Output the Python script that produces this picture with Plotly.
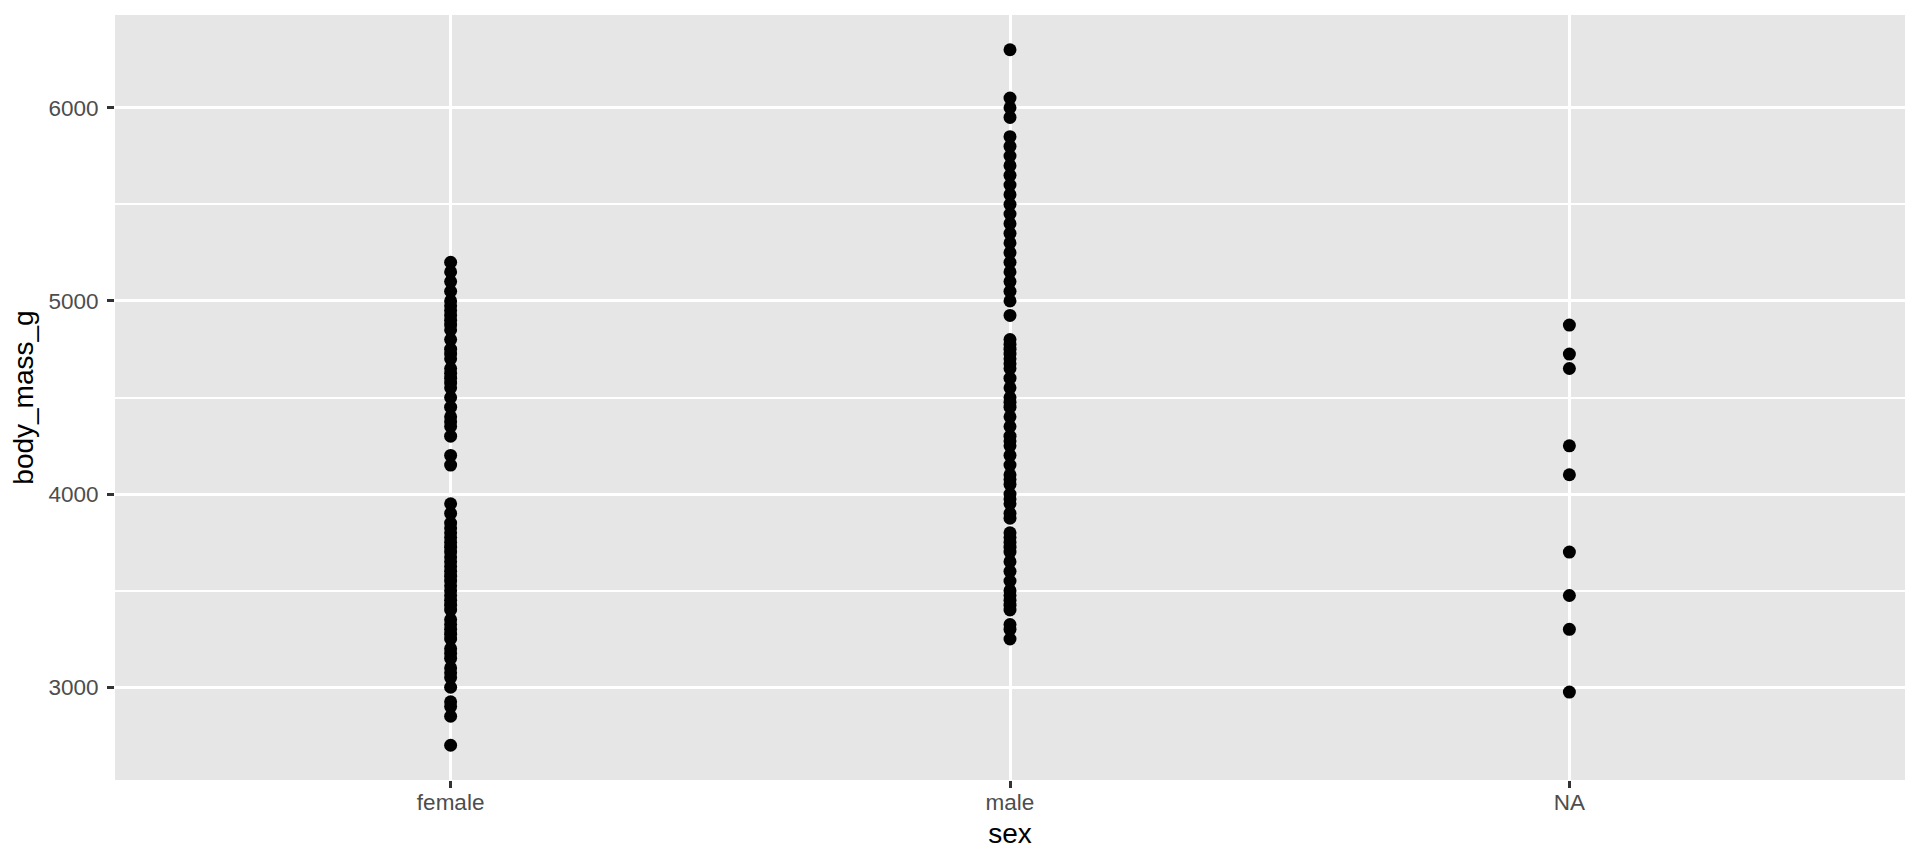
import plotly.graph_objects as go

# ---- data (distinct body masses) ----
categories = ["female", "male", "NA"]

female_mass = [5200, 5150, 5100, 5050, 5000, 4975, 4950, 4925, 4900, 4875, 4850,
               4800, 4750, 4725, 4700, 4650, 4625, 4600, 4575, 4550, 4500, 4450,
               4400, 4375, 4350, 4300, 4200, 4150, 3950, 3900, 3850, 3825, 3800,
               3775, 3750, 3725, 3700, 3675, 3650, 3625, 3600, 3575, 3550, 3525,
               3500, 3475, 3450, 3425, 3400, 3350, 3325, 3300, 3275, 3250, 3200,
               3175, 3150, 3100, 3075, 3050, 3000, 2925, 2900, 2850, 2700]

male_mass = [6300, 6050, 6000, 5950, 5850, 5800, 5750, 5700, 5650, 5600, 5550,
             5500, 5450, 5400, 5350, 5300, 5250, 5200, 5150, 5100, 5050, 5000,
             4925, 4800, 4775, 4750, 4725, 4700, 4675, 4650, 4600, 4550, 4500,
             4475, 4450, 4400, 4350, 4300, 4275, 4250, 4200, 4150, 4100, 4075,
             4050, 4000, 3975, 3950, 3900, 3875, 3800, 3775, 3750, 3725, 3700,
             3650, 3600, 3550, 3500, 3475, 3450, 3425, 3400, 3325, 3300, 3250]

na_mass = [4875, 4725, 4650, 4250, 4100, 3700, 3475, 3300, 2975]

y_tick_vals = [3000, 4000, 5000, 6000]
y_tick_text = ["3000", "4000", "5000", "6000"]
y_minor_vals = [3500, 4500, 5500]

groups = {"female": female_mass, "male": male_mass, "NA": na_mass}

xs, ys = [], []
for cat in categories:
    for v in groups[cat]:
        xs.append(cat)
        ys.append(v)

FONT = "Liberation Sans, Arial, Helvetica, sans-serif"

fig = go.Figure()
fig.add_trace(go.Scatter(
    x=xs, y=ys, mode="markers",
    marker=dict(color="black", size=13, line=dict(width=0)),
    showlegend=False,
))

# the page body adds an 8px offset, so the figure is 8px smaller and margins shifted
fig.update_layout(
    width=1912, height=856,
    margin=dict(l=107, r=15, t=7, b=84, pad=0),
    paper_bgcolor="white",
    plot_bgcolor="#E6E6E6",
    font=dict(family=FONT, color="black"),
    showlegend=False,
)

fig.update_xaxes(
    type="category",
    categoryorder="array", categoryarray=categories,
    range=[-0.6, 2.6],
    showgrid=True, gridcolor="white", gridwidth=3,
    zeroline=False, showline=False,
    ticks="outside", ticklen=7, tickwidth=2.5, tickcolor="#333333",
    tickfont=dict(family=FONT, size=22.5, color="#4D4D4D"),
    ticklabelstandoff=-5,
    title=dict(text="sex", font=dict(family=FONT, size=28, color="black"), standoff=9),
)

fig.update_yaxes(
    range=[2520, 6480],
    tickmode="array", tickvals=y_tick_vals, ticktext=y_tick_text,
    showgrid=True, gridcolor="white", gridwidth=3,
    minor=dict(tickmode="array", tickvals=y_minor_vals, showgrid=True,
               gridcolor="white", gridwidth=1.5, ticks=""),
    zeroline=False, showline=False,
    ticks="outside", ticklen=7, tickwidth=2.5, tickcolor="#333333",
    tickfont=dict(family=FONT, size=22.5, color="#4D4D4D"),
    ticklabelstandoff=4,
    title=dict(text="body_mass_g", font=dict(family=FONT, size=28, color="black"), standoff=6),
)

fig.write_html("out.html")
